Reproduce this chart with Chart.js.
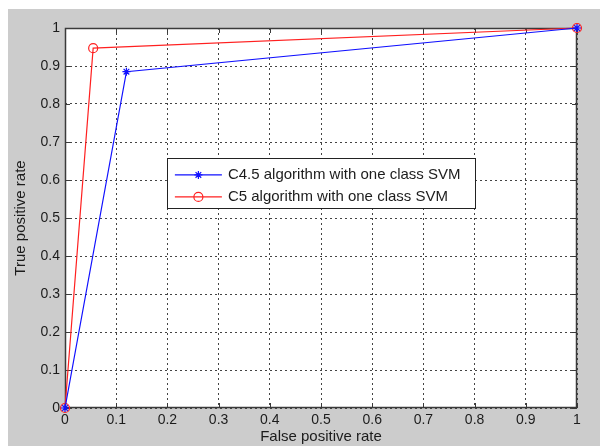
<!DOCTYPE html>
<html lang="en">
<head>
    <meta charset="UTF-8">
    <title>ROC curve</title>
    <script src="https://cdn.jsdelivr.net/npm/chart.js"></script>
    <style>
        html, body { margin: 0; padding: 0; background: #fff; }
        #wrap { width: 600px; height: 446px; }
    </style>
</head>
<body>
    <div id="wrap"><canvas id="roc" width="600" height="446"></canvas></div>

    <script>
        // ROC data
        const seriesNames = ['C4.5 algorithm with one class SVM', 'C5 algorithm with one class SVM'];
        const c45FalsePos = [0, 0.12, 1];
        const c45TruePos = [0, 0.885, 1];
        const c5FalsePos = [0, 0.055, 1];
        const c5TruePos = [0, 0.947, 1];
        const tickValues = [0, 0.1, 0.2, 0.3, 0.4, 0.5, 0.6, 0.7, 0.8, 0.9, 1];

        const toPoints = (xs, ys) => xs.map((x, i) => ({ x: x, y: ys[i] }));
        const fontFamily = '"Liberation Sans", Arial, sans-serif';
        const textColor = '#1c1c1c';

        // matlab-ish figure: gray figure, white axes, box with inward ticks
        const figurePlugin = {
            id: 'figure',
            beforeDraw(chart) {
                const { ctx, chartArea: a } = chart;
                ctx.save();
                ctx.fillStyle = '#fff';
                ctx.fillRect(0, 0, chart.width, chart.height);
                ctx.fillStyle = '#cccccc';
                ctx.fillRect(8, 9, chart.width - 8, chart.height - 9);
                ctx.fillStyle = '#fff';
                ctx.fillRect(a.left, a.top, a.right - a.left, a.bottom - a.top);
                ctx.restore();
            },
            beforeDatasetsDraw(chart) {
                const { ctx, chartArea: a, scales } = chart;
                ctx.save();
                ctx.strokeStyle = '#3a3a3a';
                ctx.lineWidth = 1;
                ctx.beginPath();
                tickValues.forEach(v => {
                    const px = Math.round(scales.x.getPixelForValue(v)) + 0.5;
                    ctx.moveTo(px, a.bottom); ctx.lineTo(px, a.bottom - 5);
                    ctx.moveTo(px, a.top); ctx.lineTo(px, a.top + 5);
                    const py = Math.round(scales.y.getPixelForValue(v)) + 0.5;
                    ctx.moveTo(a.left, py); ctx.lineTo(a.left + 5, py);
                    ctx.moveTo(a.right, py); ctx.lineTo(a.right - 5, py);
                });
                ctx.stroke();
                ctx.lineWidth = 1.5;
                ctx.strokeRect(a.left + 0.5, a.top + 0.5, a.right - a.left - 1, a.bottom - a.top - 1);
                ctx.restore();
            },
            afterDraw(chart) {
                // legend box inside the axes
                const { ctx, chartArea: a } = chart;
                const w = a.right - a.left, h = a.bottom - a.top;
                const bx = a.left + 0.199 * w, by = a.top + 0.342 * h;
                const bw = 0.602 * w, bh = 0.132 * h;
                ctx.save();
                ctx.fillStyle = '#fff';
                ctx.fillRect(bx, by, bw, bh);
                ctx.strokeStyle = '#222';
                ctx.lineWidth = 1;
                ctx.strokeRect(Math.round(bx) + 0.5, Math.round(by) + 0.5, Math.round(bw), Math.round(bh));
                chart.data.datasets.forEach((ds, i) => {
                    const y = by + 17 + i * 22;
                    const x0 = bx + 8, x1 = bx + 55;
                    ctx.strokeStyle = ds.borderColor;
                    ctx.fillStyle = ds.backgroundColor;
                    ctx.lineWidth = 1.2;
                    ctx.beginPath();
                    ctx.moveTo(x0, y); ctx.lineTo(x1, y);
                    ctx.stroke();
                    Chart.helpers.drawPoint(ctx, {
                        pointStyle: ds.pointStyle, radius: ds.pointRadius, borderWidth: 1.2, rotation: 0
                    }, (x0 + x1) / 2, y);
                    ctx.fillStyle = textColor;
                    ctx.font = '15px ' + fontFamily;
                    ctx.textBaseline = 'middle';
                    ctx.fillText(ds.label, bx + 61, y);
                });
                ctx.restore();
            }
        };

        const axisCommon = {
            type: 'linear',
            min: 0,
            max: 1,
            afterBuildTicks(scale) {
                scale.ticks = tickValues.map(v => ({ value: v }));
            },
            grid: { color: '#444', lineWidth: 1, drawTicks: false, tickLength: 0 },
            border: { display: false, dash: [2, 3] },
            ticks: {
                color: textColor,
                font: { family: fontFamily, size: 14 },
                callback: v => String(Number(v.toFixed(1)))
            }
        };

        new Chart(document.getElementById('roc'), {
            type: 'line',
            data: {
                datasets: [{
                    label: seriesNames[0],
                    data: toPoints(c45FalsePos, c45TruePos),
                    borderColor: '#1010ff',
                    backgroundColor: '#1010ff',
                    borderWidth: 1.2,
                    pointStyle: 'star',
                    pointRadius: 4,
                    pointBorderWidth: 1.2
                }, {
                    label: seriesNames[1],
                    data: toPoints(c5FalsePos, c5TruePos),
                    borderColor: '#ff2020',
                    backgroundColor: 'rgba(0,0,0,0)',
                    borderWidth: 1.2,
                    pointStyle: 'circle',
                    pointRadius: 4.5,
                    pointBorderWidth: 1.2
                }]
            },
            options: {
                responsive: false,
                animation: false,
                clip: false,
                layout: { padding: { left: 0, top: 28, right: 23, bottom: 0 } },
                plugins: {
                    legend: { display: false },
                    tooltip: { enabled: false }
                },
                scales: {
                    x: Object.assign({}, axisCommon, {
                        afterFit(scale) { scale.height = 38; },
                        ticks: Object.assign({}, axisCommon.ticks, { padding: 4, maxRotation: 0 }),
                        title: {
                            display: true,
                            text: 'False positive rate',
                            color: textColor,
                            font: { family: fontFamily, size: 15 },
                            padding: { top: 0, bottom: 0 }
                        }
                    }),
                    y: Object.assign({}, axisCommon, {
                        afterFit(scale) { scale.width = 65; },
                        ticks: Object.assign({}, axisCommon.ticks, { padding: 5 }),
                        title: {
                            display: true,
                            text: 'True positive rate',
                            color: textColor,
                            font: { family: fontFamily, size: 15 },
                            padding: { top: 12, bottom: 0 }
                        }
                    })
                }
            },
            plugins: [figurePlugin]
        });
    </script>
</body>
</html>
